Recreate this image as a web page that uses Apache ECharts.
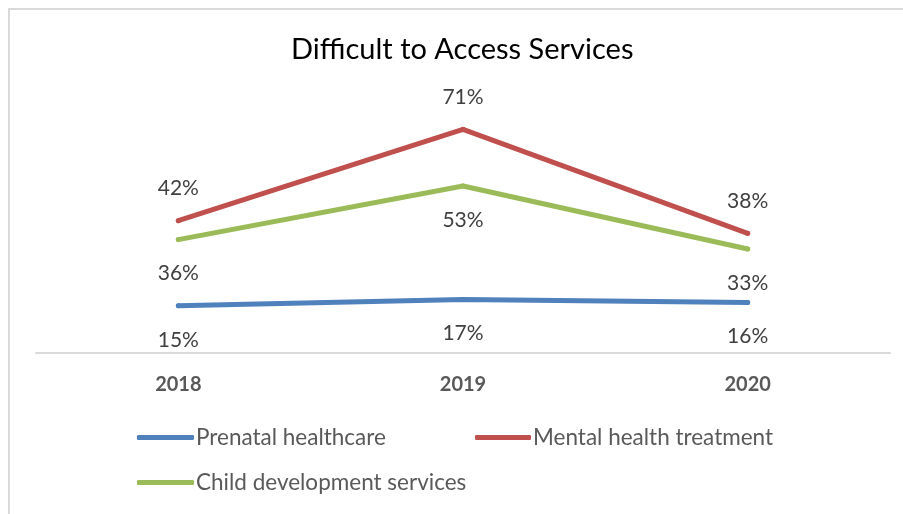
<!DOCTYPE html>
<html>
<head>
<meta charset="utf-8">
<script src="https://cdn.jsdelivr.net/npm/echarts@6/dist/echarts.min.js"></script>
<style>
  html, body { margin: 0; padding: 0; background: #fff; overflow: hidden; width: 903px; height: 514px; }
  #frame { position: absolute; left: 8px; top: 8px; width: 1200px; height: 800px;
           border-left: 2px solid #d9d9d9; border-top: 2px solid #d9d9d9; }
  #chart { position: absolute; left: 0; top: 0; width: 903px; height: 514px; }
</style>
</head>
<body>
<div id="frame"></div>
<div id="chart"></div>
<script>
var years = ['2018', '2019', '2020'];
var prenatal = [15, 17, 16];
var mental = [42, 71, 38];
var childDev = [36, 53, 33];
var seriesNames = ['Prenatal healthcare', 'Mental health treatment', 'Child development services'];

var font = 'Lato';
var myChart = echarts.init(document.getElementById('chart'));

function lineSeries(name, data, color, pos, dist) {
  return {
    name: name,
    type: 'line',
    data: data,
    symbol: 'circle',
    symbolSize: 5,
    showSymbol: true,
    itemStyle: { color: color },
    color: color,
    lineStyle: { width: 5, color: color, cap: 'round' },
    label: {
      show: true,
      position: pos,
      distance: dist,
      formatter: '{c}%',
      fontFamily: font,
      fontSize: 21,
      color: '#404040'
    },
    emphasis: { disabled: true },
    animation: false
  };
}

var legendText = { fontFamily: font, fontSize: 22.5, color: '#595959', padding: [0, 0, 0, -3] };

myChart.setOption({
  title: {
    text: 'Difficult to Access Services',
    left: 291,
    top: 35,
    padding: 0,
    textStyle: { fontFamily: font, fontSize: 29, fontWeight: 'normal', color: '#000' }
  },
  grid: { left: 36, right: 13, top: 101, bottom: 161 },
  xAxis: {
    type: 'category',
    data: years,
    boundaryGap: true,
    axisLine: { lineStyle: { color: '#d9d9d9', width: 2 } },
    axisTick: { show: false },
    axisLabel: { fontFamily: font, fontSize: 20, fontWeight: 'bold', color: '#595959', margin: 22 }
  },
  yAxis: { type: 'value', min: 0, max: 80, show: false, splitLine: { show: false } },
  legend: [
    {
      data: [seriesNames[0]],
      left: 137, top: 426, padding: 0,
      icon: 'roundRect', itemWidth: 57, itemHeight: 5, itemGap: 0,
      textStyle: legendText
    },
    {
      data: [seriesNames[1]],
      left: 475, top: 426, padding: 0,
      icon: 'roundRect', itemWidth: 56, itemHeight: 5, itemGap: 0,
      textStyle: legendText
    },
    {
      data: [seriesNames[2]],
      left: 137, top: 471, padding: 0,
      icon: 'roundRect', itemWidth: 57, itemHeight: 5, itemGap: 0,
      textStyle: legendText
    }
  ],
  series: [
    lineSeries(seriesNames[0], prenatal, '#4f81bd', 'bottom', 21),
    lineSeries(seriesNames[1], mental, '#c0504d', 'top', 19),
    lineSeries(seriesNames[2], childDev, '#9bbb59', 'bottom', 21)
  ]
});
</script>
</body>
</html>
